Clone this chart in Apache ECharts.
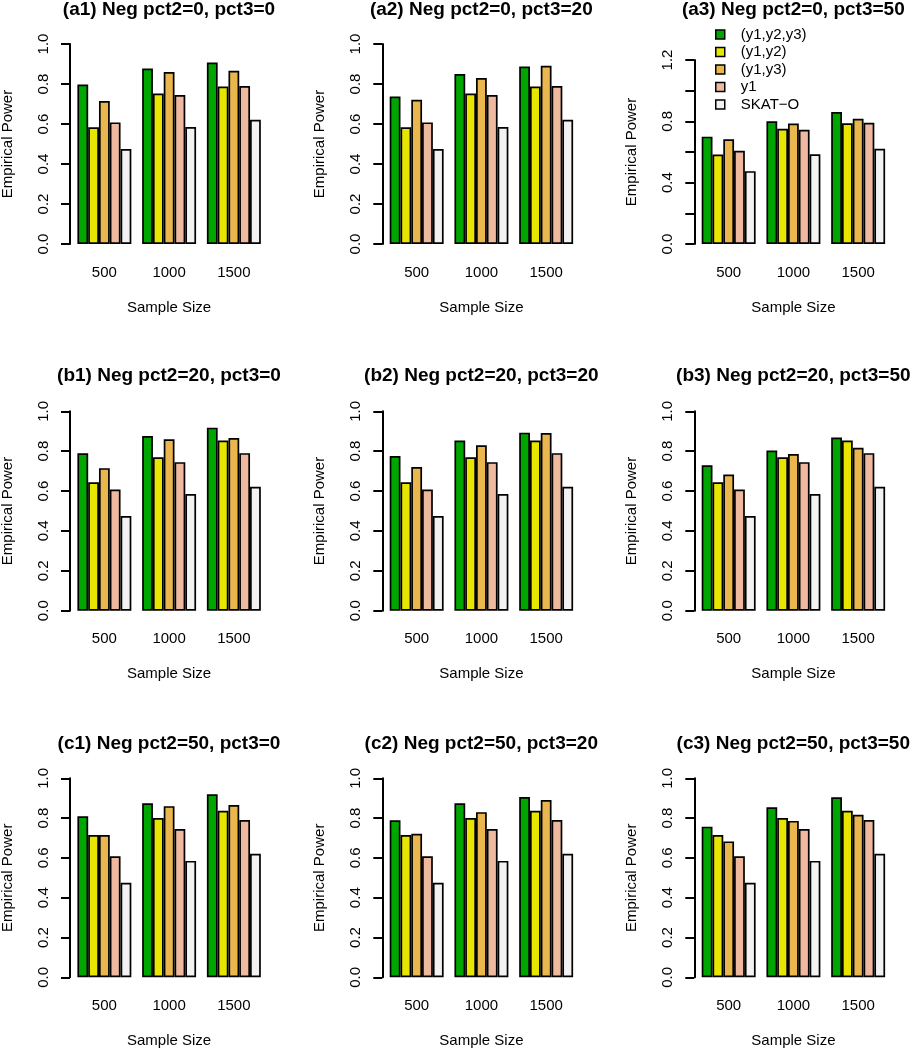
<!DOCTYPE html>
<html>
<head>
<meta charset="utf-8">
<script src="https://cdn.jsdelivr.net/npm/echarts@6/dist/echarts.min.js"></script>
<style>
html,body{margin:0;padding:0;background:#fff;}
#chart{width:911px;height:1050px;}
</style>
</head>
<body>
<div id="chart"></div>
<script>
// ---- data ----
const categories = ['500', '1000', '1500'];
const seriesNames = ['(y1,y2,y3)', '(y1,y2)', '(y1,y3)', 'y1', 'SKAT\u2212O'];
const seriesColors = ['#00A600', '#E6E600', '#EAB64E', '#EEB99F', '#F2F2F2'];
const panelTitles = [
  '(a1) Neg pct2=0, pct3=0', '(a2) Neg pct2=0, pct3=20', '(a3) Neg pct2=0, pct3=50',
  '(b1) Neg pct2=20, pct3=0', '(b2) Neg pct2=20, pct3=20', '(b3) Neg pct2=20, pct3=50',
  '(c1) Neg pct2=50, pct3=0', '(c2) Neg pct2=50, pct3=20', '(c3) Neg pct2=50, pct3=50'
];
// each panel: rows = series (y1y2y3, y1y2, y1y3, y1, SKAT-O), cols = sample sizes
const a1 = [[0.797, 0.877, 0.907], [0.584, 0.752, 0.787], [0.715, 0.860, 0.866], [0.608, 0.745, 0.790], [0.475, 0.585, 0.621]];
const a2 = [[0.737, 0.850, 0.887], [0.584, 0.752, 0.787], [0.721, 0.830, 0.891], [0.608, 0.745, 0.790], [0.475, 0.585, 0.621]];
const a3 = [[0.700, 0.800, 0.861], [0.584, 0.752, 0.787], [0.683, 0.786, 0.817], [0.608, 0.745, 0.790], [0.475, 0.585, 0.621]];
const b1 = [[0.789, 0.876, 0.918], [0.644, 0.769, 0.853], [0.715, 0.860, 0.866], [0.608, 0.745, 0.790], [0.475, 0.585, 0.621]];
const b2 = [[0.776, 0.853, 0.893], [0.644, 0.769, 0.853], [0.721, 0.830, 0.891], [0.608, 0.745, 0.790], [0.475, 0.585, 0.621]];
const b3 = [[0.729, 0.803, 0.868], [0.644, 0.769, 0.853], [0.683, 0.786, 0.817], [0.608, 0.745, 0.790], [0.475, 0.585, 0.621]];
const c1 = [[0.809, 0.874, 0.920], [0.715, 0.800, 0.837], [0.715, 0.860, 0.866], [0.608, 0.745, 0.790], [0.475, 0.585, 0.621]];
const c2 = [[0.789, 0.874, 0.906], [0.715, 0.800, 0.837], [0.721, 0.830, 0.891], [0.608, 0.745, 0.790], [0.475, 0.585, 0.621]];
const c3 = [[0.757, 0.854, 0.905], [0.715, 0.800, 0.837], [0.683, 0.786, 0.817], [0.608, 0.745, 0.790], [0.475, 0.585, 0.621]];
const panels = [a1, a2, a3, b1, b2, b3, c1, c2, c3];
const yTicksStd = ['0.0', '0.2', '0.4', '0.6', '0.8', '1.0'];
const yTicksA3 = ['0.0', '', '0.4', '', '0.8', '', '1.2'];
const yMaxStd = 1.0;
const yMaxA3 = 1.2;

// ---- layout ----
const FONT = '"Liberation Sans", Arial, Helvetica, sans-serif';
const axisXs = [70, 382.3, 694.3];
const rowY = [[44, 244], [411.3, 610.7], [778.3, 977.3]];
const a3AxisHeight = 184;
const unit = 10.79;
const titleTops = [0.5, 366.5, 734];

const grids = [], xAxes = [], yAxes = [], series = [], titles = [];
panels.forEach((data, i) => {
  const r = Math.floor(i / 3), c = i % 3;
  const isA3 = (i === 2);
  const yMax = isA3 ? yMaxA3 : yMaxStd;
  const ticks = isA3 ? yTicksA3 : yTicksStd;
  const bottom = rowY[r][1];
  const top = isA3 ? bottom - a3AxisHeight : rowY[r][0];
  const left = axisXs[c] + 2;
  grids.push({ left: left, top: top, width: unit * 18, height: bottom - top, outerBoundsMode: 'none', containLabel: false });
  xAxes.push({
    gridIndex: i, type: 'category', data: categories,
    axisLine: { show: false }, axisTick: { show: false },
    axisLabel: { fontSize: 15, fontFamily: FONT, color: '#000', margin: 21 },
    name: 'Sample Size', nameLocation: 'middle', nameGap: 56,
    nameTextStyle: { fontSize: 15, fontFamily: FONT, color: '#000' }
  });
  yAxes.push({
    gridIndex: i, type: 'value', min: 0, max: yMax, interval: 0.2, offset: 2,
    splitLine: { show: false },
    axisLine: { show: true, lineStyle: { color: '#000', width: 2 } },
    axisTick: { show: true, length: 9, lineStyle: { color: '#000', width: 2 } },
    axisLabel: {
      rotate: 90, fontSize: 15, fontFamily: FONT, color: '#000', margin: 19,
      showMinLabel: true, showMaxLabel: true,
      formatter: (v) => ticks[Math.round(v / 0.2)] ?? ''
    },
    name: 'Empirical Power', nameLocation: 'middle', nameGap: 55,
    nameTextStyle: { fontSize: 15, fontFamily: FONT, color: '#000' }
  });
  titles.push({
    text: panelTitles[i], left: axisXs[c] + 99, top: titleTops[r], textAlign: 'center', padding: 0,
    textStyle: { fontSize: 19, fontWeight: 'bold', fontFamily: FONT, color: '#000' }
  });
  data.forEach((vals, s) => {
    series.push({
      type: 'bar', name: seriesNames[s], xAxisIndex: i, yAxisIndex: i,
      data: vals, barGap: '0%', barCategoryGap: '16.667%',
      itemStyle: { color: seriesColors[s], borderColor: '#000', borderWidth: 1.7 },
      emphasis: { disabled: true }, animation: false
    });
  });
});

const chart = echarts.init(document.getElementById('chart'), null, { renderer: 'canvas' });
chart.setOption({
  backgroundColor: '#fff',
  animation: false,
  title: titles,
  legend: {
    data: seriesNames, orient: 'vertical', left: 715, top: 27,
    icon: 'rect', itemWidth: 9, itemHeight: 9, itemGap: 2.5, selectedMode: false,
    padding: 0,
    itemStyle: { borderColor: '#000', borderWidth: 1.5 },
    textStyle: { fontSize: 15, fontFamily: FONT, color: '#000', lineHeight: 15, padding: [0, 0, 0, 11] }
  },
  grid: grids, xAxis: xAxes, yAxis: yAxes, series: series
});
</script>
</body>
</html>
